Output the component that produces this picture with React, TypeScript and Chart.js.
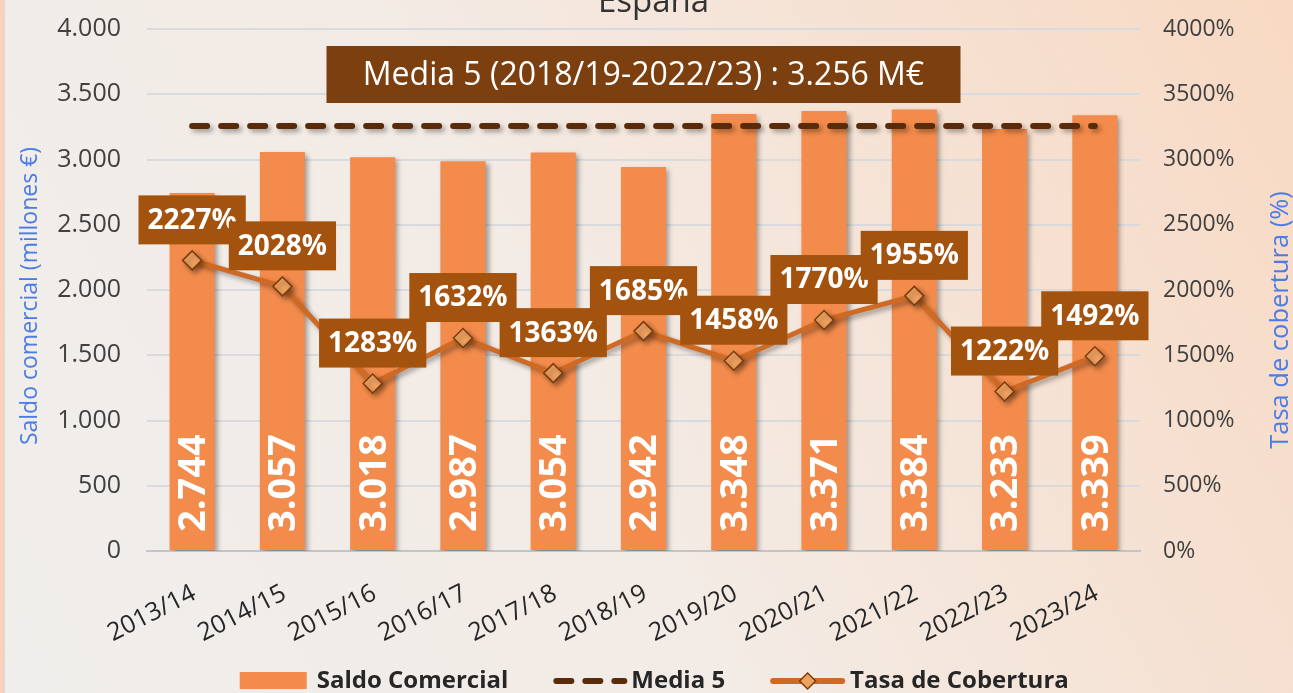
import React, { useEffect, useRef } from "react";
import { Chart, registerables } from "chart.js";

Chart.register(...registerables);

// ---------- data ----------
const chartTitle = "España";
const categories = [
  "2013/14", "2014/15", "2015/16", "2016/17", "2017/18", "2018/19",
  "2019/20", "2020/21", "2021/22", "2022/23", "2023/24",
];
const saldoComercial = [2744, 3057, 3018, 2987, 3054, 2942, 3348, 3371, 3384, 3233, 3339];
const tasaCobertura = [2227, 2028, 1283, 1632, 1363, 1685, 1458, 1770, 1955, 1222, 1492];
const media5 = [3256, 3256, 3256, 3256, 3256, 3256, 3256, 3256, 3256, 3256, 3256];
const mediaValue = 3256;
const mediaPeriod = "2018/19-2022/23";
const seriesNames = ["Saldo Comercial", "Media 5", "Tasa de Cobertura"];
const leftAxisTitle = "Saldo comercial (millones €)";
const rightAxisTitle = "Tasa de cobertura (%)";
const axisMin = 0;
const axisMax = 4000;
const axisStep = 500;

// ---------- helpers ----------
const fmt = (v: number) => String(Math.round(v)).replace(/\B(?=(\d{3})+(?!\d))/g, ".");

const COL_BAR = "#f28b4b";
const COL_MEDIA = "#5a2b0a";
const COL_LINE = "#cf6a25";
const COL_MARK_FILL = "#f0a160";
const COL_MARK_BORDER = "#7a3d0e";
const COL_LABEL_BOX = "#a4530f";
const COL_MEDIA_BOX = "#7b3f10";
const COL_AXIS_TITLE = "#4a7be6";
const FONT = "'Open Sans', 'Noto Sans', sans-serif";
const X_ROT = (27 * Math.PI) / 180;

const decorPlugin = {
  id: "decor",
  beforeDraw(chart: any) {
    const { ctx, width, height } = chart;
    ctx.save();
    const g = ctx.createLinearGradient(0, height, width, 0);
    g.addColorStop(0, "#f0eeec");
    g.addColorStop(0.45, "#f3ebe5");
    g.addColorStop(1, "#f8d9c3");
    ctx.fillStyle = g;
    ctx.fillRect(0, 0, width, height);
    ctx.fillStyle = "#f9d2bc";
    ctx.fillRect(0, 0, 4, height);
    ctx.strokeStyle = "#dcd8d4";
    ctx.lineWidth = 1;
    ctx.beginPath();
    ctx.moveTo(4.5, 0);
    ctx.lineTo(4.5, height);
    ctx.stroke();
    ctx.restore();
  },
  beforeDatasetDraw(chart: any) {
    const ctx = chart.ctx;
    ctx.save();
    ctx.shadowColor = "rgba(0,0,0,0.35)";
    ctx.shadowBlur = 5;
    ctx.shadowOffsetX = 3;
    ctx.shadowOffsetY = 3;
  },
  afterDatasetDraw(chart: any, args: any) {
    const ctx = chart.ctx;
    ctx.restore();
    const ds = chart.data.datasets[args.index];
    if (ds.type === "bar") {
      const meta = chart.getDatasetMeta(args.index);
      ctx.save();
      ctx.fillStyle = "#ffffff";
      ctx.font = `bold 38px ${FONT}`;
      ctx.textAlign = "left";
      ctx.textBaseline = "middle";
      meta.data.forEach((el: any, i: number) => {
        ctx.save();
        ctx.translate(el.x + 2, el.base - 18);
        ctx.rotate(-Math.PI / 2);
        ctx.fillText(fmt(ds.data[i]), 0, 0);
        ctx.restore();
      });
      ctx.restore();
    }
  },
  afterDatasetsDraw(chart: any) {
    const { ctx, chartArea } = chart;
    // data labels of the coverage line
    const idx = chart.data.datasets.findIndex((d: any) => d.label === seriesNames[2]);
    const meta = chart.getDatasetMeta(idx);
    const data = chart.data.datasets[idx].data;
    ctx.save();
    ctx.font = `bold 28px ${FONT}`;
    ctx.textAlign = "center";
    ctx.textBaseline = "middle";
    meta.data.forEach((el: any, i: number) => {
      const t = `${data[i]}%`;
      const w = ctx.measureText(t).width + 18;
      const h = 49;
      const bottom = el.y - 16;
      ctx.fillStyle = COL_LABEL_BOX;
      ctx.fillRect(el.x - w / 2, bottom - h, w, h);
      ctx.fillStyle = "#ffffff";
      ctx.fillText(t, el.x, bottom - h / 2 + 1);
    });
    ctx.restore();

    // media box
    const cx = (chartArea.left + chartArea.right) / 2;
    const bw = 634;
    const bh = 57;
    const top = chartArea.top + 17;
    ctx.save();
    ctx.fillStyle = COL_MEDIA_BOX;
    ctx.fillRect(cx - bw / 2, top, bw, bh);
    ctx.fillStyle = "#ffffff";
    ctx.font = `32px ${FONT}`;
    ctx.textAlign = "center";
    ctx.textBaseline = "middle";
    ctx.fillText(`Media 5 (${mediaPeriod}) : ${fmt(mediaValue)} M€`, cx, top + bh / 2 + 1);
    ctx.restore();
  },
  afterDraw(chart: any) {
    const { ctx, chartArea, width } = chart;
    ctx.save();
    // title (partly cut at top)
    ctx.fillStyle = "#333333";
    ctx.font = `33px ${FONT}`;
    ctx.textAlign = "center";
    ctx.textBaseline = "alphabetic";
    ctx.fillText(chartTitle, (chartArea.left + chartArea.right) / 2 + 10, 12);

    // rotated category labels
    const xs = chart.scales.x;
    ctx.fillStyle = "#262626";
    ctx.font = `25px ${FONT}`;
    ctx.textAlign = "right";
    ctx.textBaseline = "middle";
    categories.forEach((c, i) => {
      ctx.save();
      ctx.translate(xs.getPixelForValue(i) + 2, chartArea.bottom + 41);
      ctx.rotate(-X_ROT);
      ctx.fillText(c, 0, 0);
      ctx.restore();
    });

    // axis titles
    ctx.fillStyle = COL_AXIS_TITLE;
    ctx.textAlign = "center";
    ctx.textBaseline = "middle";
    ctx.save();
    ctx.font = `23px ${FONT}`;
    ctx.translate(30, 296);
    ctx.rotate(-Math.PI / 2);
    ctx.fillText(leftAxisTitle, 0, 0);
    ctx.restore();
    ctx.save();
    ctx.font = `25.5px ${FONT}`;
    ctx.translate(1281, 320);
    ctx.rotate(-Math.PI / 2);
    ctx.fillText(rightAxisTitle, 0, 0);
    ctx.restore();

    // legend
    const ly = 680;
    ctx.font = `bold 24px ${FONT}`;
    ctx.textAlign = "left";
    ctx.textBaseline = "middle";
    const symW = [67, 74, 75];
    const symGap = [10, 4, 5];
    const itemGap = 45;
    const textW = seriesNames.map((s) => ctx.measureText(s).width);
    let total = 0;
    for (let i = 0; i < 3; i++) total += symW[i] + symGap[i] + textW[i];
    total += itemGap * 2;
    let x = width * 0.506 - total / 2;
    for (let i = 0; i < 3; i++) {
      if (i === 0) {
        ctx.fillStyle = COL_BAR;
        ctx.fillRect(x, ly - 8, symW[0], 17);
      } else if (i === 1) {
        ctx.save();
        ctx.strokeStyle = COL_MEDIA;
        ctx.lineWidth = 6;
        ctx.lineCap = "round";
        ctx.setLineDash([15, 14]);
        ctx.beginPath();
        ctx.moveTo(x + 3, ly + 1);
        ctx.lineTo(x + symW[1] - 3, ly + 1);
        ctx.stroke();
        ctx.restore();
      } else {
        ctx.save();
        ctx.strokeStyle = COL_LINE;
        ctx.lineWidth = 6;
        ctx.lineCap = "round";
        ctx.beginPath();
        ctx.moveTo(x + 3, ly + 1);
        ctx.lineTo(x + symW[2] - 3, ly + 1);
        ctx.stroke();
        const mx = x + symW[2] / 2;
        const r = 8;
        ctx.beginPath();
        ctx.moveTo(mx, ly + 1 - r);
        ctx.lineTo(mx + r, ly + 1);
        ctx.lineTo(mx, ly + 1 + r);
        ctx.lineTo(mx - r, ly + 1);
        ctx.closePath();
        ctx.fillStyle = COL_MARK_FILL;
        ctx.fill();
        ctx.strokeStyle = COL_MARK_BORDER;
        ctx.lineWidth = 1.5;
        ctx.stroke();
        ctx.restore();
      }
      x += symW[i] + symGap[i];
      ctx.fillStyle = "#262626";
      ctx.fillText(seriesNames[i], x, ly + 1);
      x += textW[i] + itemGap;
    }
    ctx.restore();
  },
};

export default function App() {
  const ref = useRef<HTMLCanvasElement | null>(null);

  useEffect(() => {
    document.body.style.margin = "0";
    const canvas = ref.current;
    if (!canvas) return;
    const noVPad = (s: any) => {
      s.paddingTop = 0;
      s.paddingBottom = 0;
    };
    const chart = new Chart(canvas, {
      type: "bar",
      data: {
        labels: categories,
        datasets: [
          {
            type: "bar",
            label: seriesNames[0],
            data: saldoComercial,
            backgroundColor: COL_BAR,
            barPercentage: 0.5,
            categoryPercentage: 1,
            yAxisID: "y",
            order: 3,
          },
          {
            type: "line",
            label: seriesNames[1],
            data: media5,
            borderColor: COL_MEDIA,
            borderWidth: 6,
            borderDash: [15, 14],
            borderCapStyle: "round",
            pointRadius: 0,
            fill: false,
            yAxisID: "y",
            order: 2,
          },
          {
            type: "line",
            label: seriesNames[2],
            data: tasaCobertura,
            borderColor: COL_LINE,
            borderWidth: 5,
            pointStyle: "rectRot",
            pointRadius: 9.5,
            pointBackgroundColor: COL_MARK_FILL,
            pointBorderColor: COL_MARK_BORDER,
            pointBorderWidth: 1.5,
            fill: false,
            tension: 0,
            yAxisID: "y1",
            order: 1,
          },
        ] as any,
      },
      options: {
        animation: false,
        responsive: true,
        maintainAspectRatio: false,
        events: [],
        layout: { padding: { top: 29, left: 0, right: 0, bottom: 0 } },
        plugins: {
          legend: { display: false },
          tooltip: { enabled: false },
          title: { display: false },
        },
        scales: {
          x: {
            offset: true,
            grid: { display: false, drawTicks: false },
            border: { display: true, color: "#c4c4c4", width: 2 },
            ticks: { display: false },
            afterFit: (s: any) => {
              s.height = 142;
              s.paddingLeft = 0;
              s.paddingRight = 0;
            },
          },
          y: {
            position: "left",
            min: axisMin,
            max: axisMax,
            ticks: {
              stepSize: axisStep,
              padding: 26,
              color: "#404040",
              font: { family: FONT, size: 25 },
              callback: (v: any) => fmt(Number(v)),
            },
            grid: { color: "#d9dadd", lineWidth: 2, drawTicks: false },
            border: { display: false },
            afterFit: (s: any) => {
              s.width = 147;
              noVPad(s);
            },
          },
          y1: {
            position: "right",
            min: axisMin,
            max: axisMax,
            ticks: {
              stepSize: axisStep,
              padding: 23,
              color: "#404040",
              font: { family: FONT, size: 23 },
              callback: (v: any) => `${v}%`,
            },
            grid: { display: false, drawTicks: false },
            border: { display: false },
            afterFit: (s: any) => {
              s.width = 153;
              noVPad(s);
            },
          },
        },
      } as any,
      plugins: [decorPlugin],
    });
    return () => chart.destroy();
  }, []);

  return (
    <div style={{ position: "absolute", left: 0, top: 0, width: 1293, height: 693 }}>
      <canvas ref={ref} />
    </div>
  );
}
